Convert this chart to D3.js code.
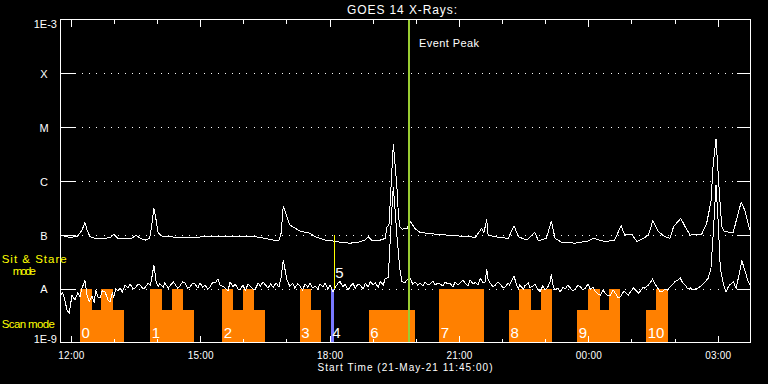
<!DOCTYPE html>
<html><head><meta charset="utf-8">
<script src="https://cdn.jsdelivr.net/npm/d3@7"></script>
<style>
html,body{margin:0;padding:0;background:#000;}
svg{display:block;background:#000;}
text{font-family:"Liberation Sans",Arial,sans-serif;}
</style></head><body>
<svg id="chart" width="768" height="384"></svg>
<script>
// ---------------- data ----------------
const titleText = "GOES 14 X-Rays:";
const xAxisTitle = "Start Time (21-May-21 11:45:00)";
const timeDomain = ["11:45", "03:45"];
const fluxDomain = [1e-9, 1e-3];
const fluxTicks = [1e-9, 1e-8, 1e-7, 1e-6, 1e-5, 1e-4, 1e-3];
const fluxTickLabels = ["1E-9", "A", "B", "C", "M", "X", "1E-3"];
const eventPeakTime = "19:50";
const eventPeakLabel = "Event Peak";
const modeLabels = ["Sit & Stare", "mode", "Scan mode"];

// GOES long channel (1-8 A), W/m^2
const longChannel = [
["11:45",9.9e-8],["11:58",8.9e-8],["12:09",9.5e-8],["12:15",1.23e-7],["12:19",1.71e-7],["12:22",1.23e-7],["12:26",9.2e-8],["12:33",8.6e-8],["12:47",8.6e-8],["12:54",8.9e-8],["12:59",1.02e-7],["13:05",8.6e-8],["13:15",8.4e-8],["13:24",8.6e-8],["13:30",9.9e-8],["13:36",8.6e-8],["13:43",8.0e-8],["13:49",8.6e-8],["13:52",1.52e-7],["13:55",3.11e-7],["13:58",1.89e-7],["14:01",1.08e-7],["14:06",9.5e-8],["14:17",9.2e-8],["14:31",8.9e-8],["14:52",8.9e-8],["15:13",9.5e-8],["15:41",9.5e-8],["16:16",9.2e-8],["16:30",8.6e-8],["16:43",7.9e-8],["16:49",8.0e-8],["16:52",1.08e-7],["16:55",3.48e-7],["16:59",2.34e-7],["17:04",1.52e-7],["17:18",1.18e-7],["17:32",1.07e-7],["17:39",9.2e-8],["17:53",8.0e-8],["18:04",7.7e-8],["18:14",7.3e-8],["18:28",7.0e-8],["18:39",7.3e-8],["18:49",8.0e-8],["18:53",9.2e-8],["18:58",8.0e-8],["19:10",8.0e-8],["19:17",8.6e-8],["19:19",1.4e-7],["19:22",1.52e-7],["19:25",8.4e-7],["19:28",4.8e-6],["19:30",2.46e-6],["19:33",7.8e-7],["19:35",2.55e-7],["19:37",1.42e-7],["19:40",1.28e-7],["19:47",1.3e-7],["19:52",1.75e-7],["19:58",1.32e-7],["20:05",1.11e-7],["20:19",1.05e-7],["20:42",9.9e-8],["21:15",9.2e-8],["21:22",8.9e-8],["21:31",1.32e-7],["21:34",1.08e-7],["21:38",1.94e-7],["21:40",9.9e-8],["21:54",9.0e-8],["22:08",8.6e-8],["22:16",1.48e-7],["22:22",9.2e-8],["22:34",8.0e-8],["22:45",1.11e-7],["22:50",7.7e-8],["23:01",8.6e-8],["23:08",1.83e-7],["23:13",8.6e-8],["23:22",7.3e-8],["23:41",7.0e-8],["23:59",7.7e-8],["00:06",8.6e-8],["00:23",7.5e-8],["00:36",8.0e-8],["00:45",1.48e-7],["00:50",9.9e-8],["01:00",1.02e-7],["01:07",7.5e-8],["01:18",8.9e-8],["01:23",9.9e-8],["01:29",1.81e-7],["01:37",1.14e-7],["01:46",9.2e-8],["01:53",8.6e-8],["01:58",1.42e-7],["02:08",2.03e-7],["02:14",1.42e-7],["02:21",9.9e-8],["02:37",1.02e-7],["02:44",1.64e-7],["02:50",4.13e-7],["02:53",1.98e-6],["02:57",6.0e-6],["03:01",8.4e-7],["03:05",1.42e-7],["03:09",1.14e-7],["03:21",1.11e-7],["03:26",2.03e-7],["03:32",4.03e-7],["03:37",2.89e-7],["03:44",1.23e-7]
];

// GOES short channel (0.5-4 A), W/m^2
const shortChannel = [
["11:45",7.6e-9],["11:48",8.3e-9],["11:51",6.2e-9],["11:54",4.0e-9],["11:57",3.5e-9],["12:00",6.2e-9],["12:01",7.6e-9],["12:05",6.2e-9],["12:09",8.3e-9],["12:12",7.0e-9],["12:15",1.03e-8],["12:19",1.41e-8],["12:22",7.6e-9],["12:25",5.7e-9],["12:29",7.3e-9],["12:32",5.4e-9],["12:34",9.4e-9],["12:37",7.0e-9],["12:40",6.7e-9],["12:43",9.1e-9],["12:47",8.7e-9],["12:51",6.2e-9],["12:54",5.7e-9],["12:57",8.3e-9],["12:59",7.0e-9],["13:02",9.8e-9],["13:05",9.1e-9],["13:08",1.03e-8],["13:11",8.7e-9],["13:15",1.17e-8],["13:19",1.03e-8],["13:22",1.22e-8],["13:26",9.8e-9],["13:29",1.03e-8],["13:33",1.22e-8],["13:36",1.17e-8],["13:40",9.8e-9],["13:43",1.07e-8],["13:47",1.27e-8],["13:50",1.17e-8],["13:52",1.58e-8],["13:55",2.75e-8],["13:57",1.72e-8],["13:58",1.33e-8],["14:01",1.12e-8],["14:03",1.22e-8],["14:08",1.07e-8],["14:10",1.27e-8],["14:15",1.03e-8],["14:17",1.12e-8],["14:22",1.33e-8],["14:24",1.22e-8],["14:28",1.03e-8],["14:31",1.12e-8],["14:35",1.33e-8],["14:38",1.27e-8],["14:42",1.03e-8],["14:45",1.07e-8],["14:49",1.27e-8],["14:52",1.22e-8],["14:56",1.03e-8],["14:59",1.27e-8],["15:03",1.07e-8],["15:06",1.17e-8],["15:10",9.8e-9],["15:13",1.07e-8],["15:17",1.33e-8],["15:20",1.27e-8],["15:24",1.51e-8],["15:27",1.17e-8],["15:30",1.12e-8],["15:34",1.03e-8],["15:38",9.1e-9],["15:41",1.33e-8],["15:45",1.07e-8],["15:48",1.22e-8],["15:52",9.8e-9],["15:55",9.8e-9],["15:59",1.17e-8],["16:02",9.1e-9],["16:06",1.22e-8],["16:09",1.12e-8],["16:13",9.8e-9],["16:16",9.8e-9],["16:20",1.27e-8],["16:23",1.12e-8],["16:27",1.33e-8],["16:30",1.17e-8],["16:34",1.03e-8],["16:37",1.22e-8],["16:41",1.07e-8],["16:45",1.27e-8],["16:49",1.07e-8],["16:52",1.65e-8],["16:55",3.41e-8],["16:57",2.42e-8],["17:00",1.45e-8],["17:04",1.12e-8],["17:08",1.27e-8],["17:11",1.03e-8],["17:15",1.22e-8],["17:18",1.12e-8],["17:22",9.4e-9],["17:25",1.22e-8],["17:29",1.07e-8],["17:32",1.27e-8],["17:36",1.03e-8],["17:39",1.12e-8],["17:43",9.8e-9],["17:46",1.22e-8],["17:50",1.07e-8],["17:53",1.27e-8],["17:57",9.8e-9],["18:00",1.17e-8],["18:04",8.7e-9],["18:07",1.03e-8],["18:11",1.27e-8],["18:14",1.35e-8],["18:18",1.07e-8],["18:21",1.22e-8],["18:25",9.4e-9],["18:28",1.09e-8],["18:32",1.27e-8],["18:35",1.02e-8],["18:39",1.22e-8],["18:42",1.17e-8],["18:46",9.8e-9],["18:49",1.26e-8],["18:53",1.07e-8],["18:56",1.35e-8],["19:00",1.17e-8],["19:03",1.27e-8],["19:07",1.07e-8],["19:10",1.35e-8],["19:14",1.17e-8],["19:17",1.56e-8],["19:21",1.60e-8],["19:23",5.23e-8],["19:26",2.89e-7],["19:28",7.84e-7],["19:30",3.58e-7],["19:33",9.9e-8],["19:37",2.42e-8],["19:40",1.35e-8],["19:44",1.27e-8],["19:48",1.51e-8],["19:51",1.60e-8],["19:55",1.22e-8],["19:58",1.33e-8],["20:02",1.17e-8],["20:05",1.27e-8],["20:09",1.12e-8],["20:12",1.33e-8],["20:16",1.17e-8],["20:19",1.22e-8],["20:23",1.39e-8],["20:26",1.17e-8],["20:30",1.27e-8],["20:33",1.22e-8],["20:37",1.12e-8],["20:40",1.33e-8],["20:44",1.22e-8],["20:47",1.26e-8],["20:51",1.07e-8],["20:54",1.33e-8],["20:58",1.17e-8],["21:01",1.27e-8],["21:05",1.45e-8],["21:08",1.26e-8],["21:12",1.12e-8],["21:15",1.45e-8],["21:19",1.22e-8],["21:22",1.31e-8],["21:26",1.17e-8],["21:29",1.56e-8],["21:33",1.27e-8],["21:36",1.35e-8],["21:38",2.32e-8],["21:40",1.45e-8],["21:43",1.26e-8],["21:47",1.07e-8],["21:50",1.17e-8],["21:54",1.33e-8],["21:57",1.21e-8],["22:01",1.03e-8],["22:04",1.09e-8],["22:08",1.27e-8],["22:10",1.17e-8],["22:13",1.45e-8],["22:16",1.74e-8],["22:19",1.22e-8],["22:22",1.02e-8],["22:24",1.17e-8],["22:29",9.8e-9],["22:31",1.13e-8],["22:36",1.27e-8],["22:38",1.04e-8],["22:42",1.12e-8],["22:45",1.21e-8],["22:49",9.8e-9],["22:52",8.8e-9],["22:56",1.12e-8],["22:59",9.4e-9],["23:03",1.07e-8],["23:06",1.33e-8],["23:08",1.87e-8],["23:10",1.17e-8],["23:13",9.4e-9],["23:17",1.03e-8],["23:20",8.6e-9],["23:24",1.07e-8],["23:27",9.8e-9],["23:31",1.17e-8],["23:34",1.04e-8],["23:38",9.1e-9],["23:41",9.8e-9],["23:45",1.17e-8],["23:48",1.09e-8],["23:52",9.4e-9],["23:55",1.02e-8],["23:59",1.22e-8],["00:02",9.8e-9],["00:06",1.07e-8],["00:09",8.8e-9],["00:13",8.0e-9],["00:16",7.6e-9],["00:20",9.4e-9],["00:23",8.2e-9],["00:27",7.3e-9],["00:30",7.6e-9],["00:34",9.4e-9],["00:37",8.2e-9],["00:41",6.7e-9],["00:44",7.1e-9],["00:48",8.7e-9],["00:50",8.8e-9],["00:55",7.6e-9],["00:57",8.3e-9],["01:02",1.03e-8],["01:04",9.8e-9],["01:09",8.3e-9],["01:11",8.8e-9],["01:16",1.07e-8],["01:18",1.02e-8],["01:23",1.17e-8],["01:25",1.26e-8],["01:29",1.51e-8],["01:32",1.22e-8],["01:36",1.02e-8],["01:39",8.7e-9],["01:42",8.8e-9],["01:46",9.8e-9],["01:50",9.4e-9],["01:53",1.09e-8],["01:57",1.22e-8],["02:00",1.35e-8],["02:04",1.45e-8],["02:07",1.60e-8],["02:10",1.33e-8],["02:14",1.17e-8],["02:18",9.8e-9],["02:21",1.04e-8],["02:25",9.4e-9],["02:28",9.8e-9],["02:32",1.03e-8],["02:35",1.09e-8],["02:39",1.22e-8],["02:42",1.35e-8],["02:46",1.56e-8],["02:50",2.39e-8],["02:53",9.9e-8],["02:57",8.43e-7],["03:00",1.75e-7],["03:03",2.39e-8],["03:07",1.26e-8],["03:11",8.8e-9],["03:14",1.07e-8],["03:16",1.17e-8],["03:21",1.35e-8],["03:25",1.02e-8],["03:29",1.80e-8],["03:33",3.27e-8],["03:37",2.22e-8],["03:41",1.45e-8],["03:44",1.17e-8]
];

// scan-mode rasters: [start, end, level]
const scanSegments = [
["12:12","12:29",1e-8],["12:29","12:41",4e-9],["12:41","12:58",1e-8],["12:58","13:13",4e-9],
["13:50","14:06",1e-8],["14:06","14:20",4e-9],["14:20","14:35",1e-8],["14:35","14:51",4e-9],
["15:30","15:45",1e-8],["15:45","15:59",4e-9],["15:59","16:14",1e-8],["16:14","16:30",4e-9],
["17:18","17:34",1e-8],["17:34","17:48",4e-9],
["18:54","19:58",4e-9],
["20:32","21:34",1e-8],
["22:09","22:23",4e-9],["22:23","22:40",1e-8],["22:40","22:53",4e-9],["22:53","23:09",1e-8],
["23:44","23:59",4e-9],["23:59","00:15",1e-8],["00:15","00:28",4e-9],["00:28","00:44",1e-8],
["01:20","01:33",4e-9],["01:33","01:50",1e-8]
];
const scanLabels = [["0","12:12"],["1","13:50"],["2","15:30"],["3","17:18"],["4","18:01"],["6","18:54"],["7","20:32"],["8","22:09"],["9","23:44"],["10","01:20"]];
const blueObs = ["18:01","18:05",1e-8];
const sitStareObs = ["5","18:06",1e-8,1e-7];

// ---------------- drawing ----------------
function t(s){
  const [h,m] = s.split(":").map(Number);
  let ms = Date.UTC(2021,4,21,h,m);
  if (h < 11) ms += 86400000;
  return new Date(ms);
}
const svg = d3.select("#chart");
const x = d3.scaleUtc().domain(timeDomain.map(t)).range([60.5, 750.5]);
const y = d3.scaleLog().domain(fluxDomain).range([342.5, 19.5]);
const sx = v => Math.floor(x(v)) + 0.5;
const sy = v => Math.round(y(v)) + 0.5;
const L = x.range()[0], R = x.range()[1], T = y.range()[1], B = y.range()[0];

// gridlines (dotted) and y ticks
const mids = fluxTicks.slice(1, -1);
svg.append("g").selectAll("line").data(mids).join("line")
  .attr("x1", L + 14.5).attr("x2", R - 14.5)
  .attr("y1", d => sy(d)).attr("y2", d => sy(d))
  .attr("stroke", "#fff").attr("stroke-width", 1)
  .attr("stroke-dasharray", "1,6.14").attr("shape-rendering", "crispEdges");
const yt = svg.append("g").attr("stroke", "#fff").attr("shape-rendering", "crispEdges");
yt.selectAll("line.l").data(mids).join("line").attr("class","l")
  .attr("x1", L).attr("x2", L + 14).attr("y1", d => sy(d)).attr("y2", d => sy(d));
yt.selectAll("line.r").data(mids).join("line").attr("class","r")
  .attr("x1", R - 14).attr("x2", R).attr("y1", d => sy(d)).attr("y2", d => sy(d));

// scan bars
svg.append("g").selectAll("rect").data(scanSegments).join("rect")
  .attr("x", d => Math.round(x(t(d[0]))))
  .attr("width", d => Math.round(x(t(d[1]))) - Math.round(x(t(d[0]))))
  .attr("y", d => Math.round(y(d[2])))
  .attr("height", d => Math.round(B) - Math.round(y(d[2])))
  .attr("fill", "#ff8000").attr("shape-rendering", "crispEdges");
svg.append("rect")
  .attr("x", Math.round(x(t(blueObs[0]))))
  .attr("width", Math.round(x(t(blueObs[1]))) - Math.round(x(t(blueObs[0]))))
  .attr("y", Math.round(y(blueObs[2])))
  .attr("height", Math.round(B) - Math.round(y(blueObs[2])))
  .attr("fill", "#7878ff").attr("shape-rendering", "crispEdges");

// light curves
const line = d3.line().x(d => x(t(d[0]))).y(d => y(d[1]));
[longChannel, shortChannel].forEach(series => {
  svg.append("path").datum(series).attr("d", line)
    .attr("fill", "none").attr("stroke", "#fff").attr("stroke-width", 1)
    .attr("shape-rendering", "crispEdges");
});

// sit & stare marker
svg.append("line")
  .attr("x1", sx(t(sitStareObs[1]))).attr("x2", sx(t(sitStareObs[1])))
  .attr("y1", y(sitStareObs[3])).attr("y2", y(sitStareObs[2]))
  .attr("stroke", "#ffff00").attr("stroke-width", 1).attr("shape-rendering","crispEdges");
svg.append("text").text(sitStareObs[0])
  .attr("x", x(t(sitStareObs[1])) + 1).attr("y", y(sitStareObs[2]) - 10.5)
  .attr("fill", "#fff").attr("font-size", 15);

// event peak line
svg.append("line")
  .attr("x1", x(t(eventPeakTime))).attr("x2", x(t(eventPeakTime)))
  .attr("y1", T).attr("y2", B)
  .attr("stroke", "#9acd32").attr("stroke-width", 2).attr("shape-rendering","crispEdges");
svg.append("text").text(eventPeakLabel)
  .attr("x", x(t(eventPeakTime)) + 10).attr("y", 46.5)
  .attr("fill", "#fff").attr("font-size", 11)
  .attr("textLength", 60).attr("lengthAdjust", "spacing");

// scan labels
svg.append("g").selectAll("text").data(scanLabels).join("text")
  .text(d => d[0])
  .attr("x", d => x(t(d[1])) + 1.5).attr("y", B - 4.3)
  .attr("fill", "#fff").attr("font-size", 15);

// frame
svg.append("rect").attr("x", L).attr("y", T).attr("width", R - L).attr("height", B - T)
  .attr("fill", "none").attr("stroke", "#fff").attr("shape-rendering", "crispEdges");

// x ticks
const hours = d3.utcHour.range(t("12:00"), t(timeDomain[1]));
const xt = svg.append("g").attr("stroke", "#fff").attr("shape-rendering", "crispEdges");
const tl = d => d.getUTCHours() % 3 === 0 ? 7 : 4;
xt.selectAll("line.b").data(hours).join("line").attr("class","b")
  .attr("x1", d => sx(d)).attr("x2", d => sx(d))
  .attr("y1", B).attr("y2", d => B - tl(d));
xt.selectAll("line.t").data(hours).join("line").attr("class","t")
  .attr("x1", d => sx(d)).attr("x2", d => sx(d))
  .attr("y1", T).attr("y2", d => T + tl(d));
const majors = hours.filter(d => d.getUTCHours() % 3 === 0);
svg.append("g").selectAll("text").data(majors).join("text")
  .text(d => d3.utcFormat("%H:%M")(d))
  .attr("x", d => x(d)).attr("y", 358.5)
  .attr("text-anchor", "middle").attr("fill", "#fff").attr("font-size", 10)
  .attr("textLength", 26).attr("lengthAdjust", "spacing");

// y labels
svg.append("g").selectAll("text").data(fluxTicks).join("text")
  .text((d, i) => fluxTickLabels[i])
  .attr("x", (d, i) => (i === 0 || i === fluxTicks.length - 1) ? 57 : 44)
  .attr("y", (d, i) => i === 0 ? y(d) + 0.5 : (i === fluxTicks.length - 1 ? y(d) + 8 : y(d) + 4.8))
  .attr("text-anchor", (d, i) => (i === 0 || i === fluxTicks.length - 1) ? "end" : "middle")
  .attr("fill", "#fff").attr("font-size", 11);

// titles
svg.append("text").text(titleText)
  .attr("x", 402).attr("y", 13.5).attr("text-anchor", "middle")
  .attr("fill", "#fff").attr("font-size", 12)
  .attr("textLength", 110).attr("lengthAdjust", "spacing");
svg.append("text").text(xAxisTitle)
  .attr("x", 405).attr("y", 371).attr("text-anchor", "middle")
  .attr("fill", "#fff").attr("font-size", 10)
  .attr("textLength", 175).attr("lengthAdjust", "spacing");

// mode labels
svg.append("text").text(modeLabels[0]).attr("x", 1.7).attr("y", 263.3)
  .attr("fill", "#ffff00").attr("font-size", 11.5)
  .attr("textLength", 65).attr("lengthAdjust", "spacing");
svg.append("text").text(modeLabels[1]).attr("x", 12.7).attr("y", 275)
  .attr("fill", "#ffff00").attr("font-size", 11.5)
  .attr("textLength", 23.3).attr("lengthAdjust", "spacing");
svg.append("text").text(modeLabels[2]).attr("x", 1.7).attr("y", 327.7)
  .attr("fill", "#ffff00").attr("font-size", 11.5)
  .attr("textLength", 53.3).attr("lengthAdjust", "spacing");
</script>
</body></html>
